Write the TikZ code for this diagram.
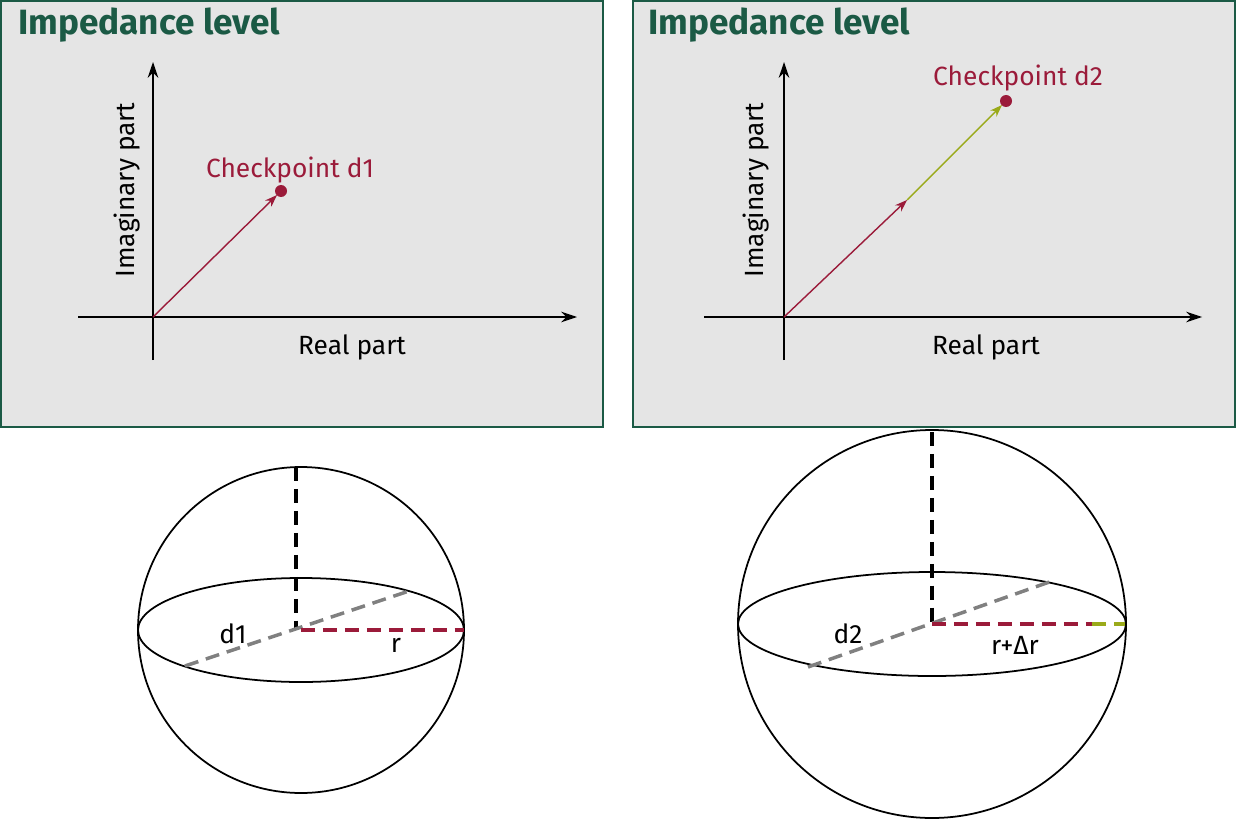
\documentclass[tikz,border=0pt]{standalone}
\usepackage{fontspec}
\setmainfont{Fira Sans}
\usetikzlibrary{arrows.meta,positioning}
\definecolor{boxgreen}{HTML}{1B5A45}
\definecolor{ptred}{HTML}{9B1B3A}
\definecolor{ptgreen}{HTML}{9AAA1A}
\begin{document}
\begin{tikzpicture}[x=0.02cm,y=-0.02cm]
  \tikzstyle{every node}=[font=\fontsize{15}{18}\selectfont]
  \tikzset{panel/.style={draw=boxgreen,line width=1.2pt,fill=black!10},
    axis/.style={line width=0.8pt,-{Stealth[length=9pt,width=6pt]}},
    vec/.style={line width=0.8pt,-{Stealth[length=7pt,width=5pt]}},
    title/.style={anchor=west,text=boxgreen,font=\fontsize{20}{24}\selectfont\bfseries},
    dashline/.style={line width=2pt,dash pattern=on 8pt off 4.5pt}}
  \useasboundingbox (0,0) rectangle (1236,824);

  % Panels
  \draw[panel] (1,1) rectangle (603,427);
  \draw[panel] (633,1) rectangle (1235,427);
  \node[title] (title A) at (12,25) {Impedance level};
  \node[title] (title B) at (642,25) {Impedance level};

  % Left diagram
  \coordinate (OA) at (153,317);
  \coordinate (xA) at (577,317);
  \coordinate (yA) at (153,62);
  \coordinate (d1) at (281,191);
  \draw[axis] (78,317) -- (xA);
  \draw[axis] (153,360) -- (yA);
  \draw[vec,ptred] (OA) -- (277,195);
  \fill[ptred] (d1) circle (6);
  \node[text=ptred] (lab d1) at (290,170) {Checkpoint d1};
  \node (re A) at (352,347) {Real part};
  \node[rotate=90] (im A) at (127,190) {Imaginary part};

  % Right diagram
  \coordinate (OB) at (784,317);
  \coordinate (xB) at (1202,317);
  \coordinate (yB) at (784,62);
  \coordinate (mid) at (907,200);
  \coordinate (d2) at (1006,101);
  \draw[axis] (704,317) -- (xB);
  \draw[axis] (784,360) -- (yB);
  \draw[vec,ptred] (OB) -- (mid);
  \draw[vec,ptgreen] (mid) -- (1002,105);
  \fill[ptred] (d2) circle (6);
  \node[text=ptred] (lab d2) at (1018,78) {Checkpoint d2};
  \node (re B) at (986,347) {Real part};
  \node[rotate=90] (im B) at (756,190) {Imaginary part};

  % Left sphere
  \coordinate (cA) at (301,630);
  \draw[line width=1pt] (cA) circle (163);
  \draw[line width=1pt] (cA) ellipse (163 and 52);
  \draw[dashline] (296,467) -- (296,630);
  \draw[dashline,gray] (185,666) -- (412,590);
  \draw[dashline,ptred] (cA) -- (464,630);
  \node (lab dA) at (233,634) {d1};
  \node (lab r) at (396,645) {r};

  % Right sphere
  \coordinate (cB) at (932,624);
  \draw[line width=1pt] (cB) circle (194);
  \draw[line width=1pt] (cB) ellipse (194 and 52);
  \draw[dashline] (932,432) -- (cB);
  \draw[dashline,gray] (808,667) -- (1055,580);
  \draw[dashline,ptred] (cB) -- (1092,624);
  \draw[dashline,ptgreen] (1092,624) -- (1125,624);
  \node (lab dB) at (848,634) {d2};
  \node (lab rdr) at (1015,645) {r+Δr};
\end{tikzpicture}
\end{document}
